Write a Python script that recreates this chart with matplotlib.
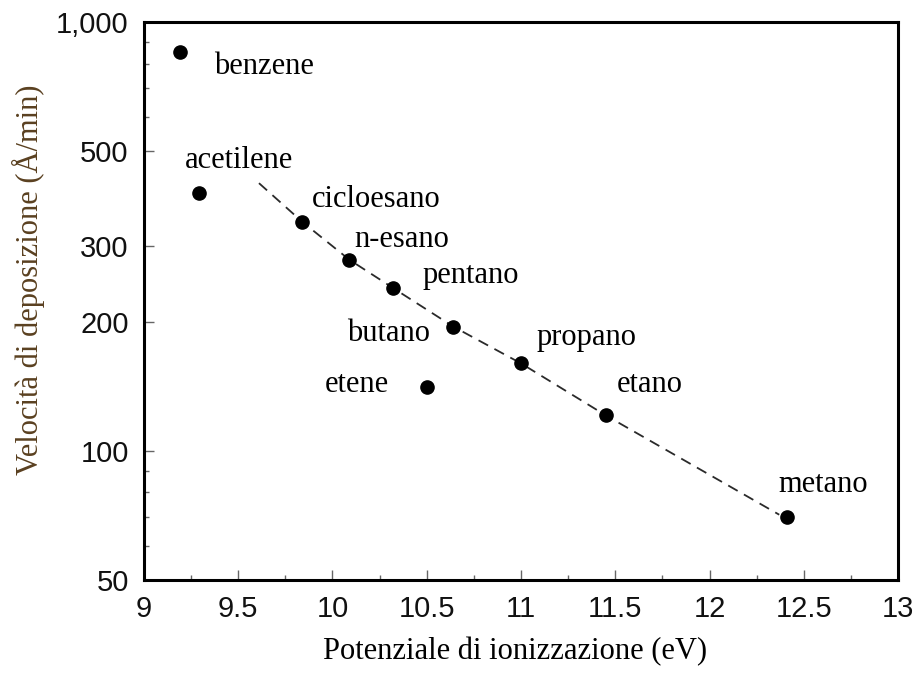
import matplotlib
matplotlib.use("Agg")
import matplotlib.pyplot as plt
from matplotlib.ticker import FixedLocator, NullFormatter

# Ionisation potential (eV) and deposition rate (Å/min) for each hydrocarbon
compounds = ["benzene", "acetilene", "cicloesano", "n-esano", "pentano",
             "butano", "etene", "propano", "etano", "metano"]
ionization_ev = [9.19, 9.29, 9.84, 10.09, 10.32, 10.64, 10.50, 11.00, 11.45, 12.41]
deposition_rate = [850, 400, 342, 279, 240, 195, 141, 160, 121, 70]

# Dashed trend through the saturated hydrocarbons
trend_ev = [9.61, 9.84, 10.09, 10.32, 10.64, 11.00, 11.45, 12.37]
trend_rate = [421, 342, 279, 240, 195, 160, 121, 71]

y_ticks = [50, 100, 200, 300, 500, 1000]
y_tick_labels = ["50", "100", "200", "300", "500", "1,000"]
y_minor = [60, 70, 80, 90, 600, 700, 800, 900]
x_ticks = [9, 9.5, 10, 10.5, 11, 11.5, 12, 12.5, 13]
x_tick_labels = ["9", "9.5", "10", "10.5", "11", "11.5", "12", "12.5", "13"]
x_minor = [9.25, 9.75, 10.25, 10.75, 11.25, 11.75, 12.25, 12.75]

# label placement: (dx, dy) in pixels from the point, horizontal alignment
label_offsets = {
    "benzene": (34, -22, "left"),
    "acetilene": (-14, 25, "left"),
    "cicloesano": (10, 15, "left"),
    "n-esano": (5, 13, "left"),
    "pentano": (30, 5, "left"),
    "butano": (-23, -14, "right"),
    "etene": (-38, -5, "right"),
    "propano": (16, 18, "left"),
    "etano": (11, 23, "left"),
    "metano": (-8, 25, "left"),
}

SERIF = "Liberation Serif"
SANS = "Liberation Sans"
PX = 0.72  # points per pixel at 100 dpi

fig = plt.figure(figsize=(9.2, 6.75), dpi=100)
ax = fig.add_axes([0.1565, 0.1407, 0.8196, 0.8267])

ax.plot(trend_ev, trend_rate, color="#2a2a2a", lw=1.3,
        linestyle=(0, (6, 4)), zorder=2)
ax.plot(ionization_ev, deposition_rate, "o", color="black",
        markersize=9.5, zorder=3)

for name, xv, yv in zip(compounds, ionization_ev, deposition_rate):
    dx, dy, ha = label_offsets[name]
    ax.annotate(name, (xv, yv), xytext=(dx * PX, dy * PX),
                textcoords="offset points", ha=ha, va="baseline",
                fontsize=22, family=SERIF, color="black")

ax.set_yscale("log")
ax.set_ylim(50, 1000)
ax.set_xlim(9, 13)

ax.yaxis.set_major_locator(FixedLocator(y_ticks))
ax.set_yticklabels(y_tick_labels)
ax.yaxis.set_minor_locator(FixedLocator(y_minor))
ax.yaxis.set_minor_formatter(NullFormatter())
ax.set_xticks(x_ticks)
ax.set_xticklabels(x_tick_labels)
ax.xaxis.set_minor_locator(FixedLocator(x_minor))

for sp in ax.spines.values():
    sp.set_linewidth(2.2)
    sp.set_color("black")

ax.tick_params(which="both", direction="in", top=False, right=False,
               color="#666666", width=1.0)
ax.tick_params(which="major", length=7, labelsize=21, pad=11)
ax.tick_params(which="minor", length=3.6)
for lab in ax.get_xticklabels() + ax.get_yticklabels():
    lab.set_family(SANS)
    lab.set_color("#111111")

fig.text(515 / 920, 1 - 652 / 675, "Potenziale di ionizzazione (eV)",
         ha="center", va="center", fontsize=22, family=SERIF, color="black")
fig.text(28 / 920, 1 - 280 / 675, "Velocità di deposizione (Å/min)",
         ha="center", va="center", rotation=90, fontsize=22, family=SERIF,
         color="#5a4020")

fig.savefig("out.png", dpi=100)
